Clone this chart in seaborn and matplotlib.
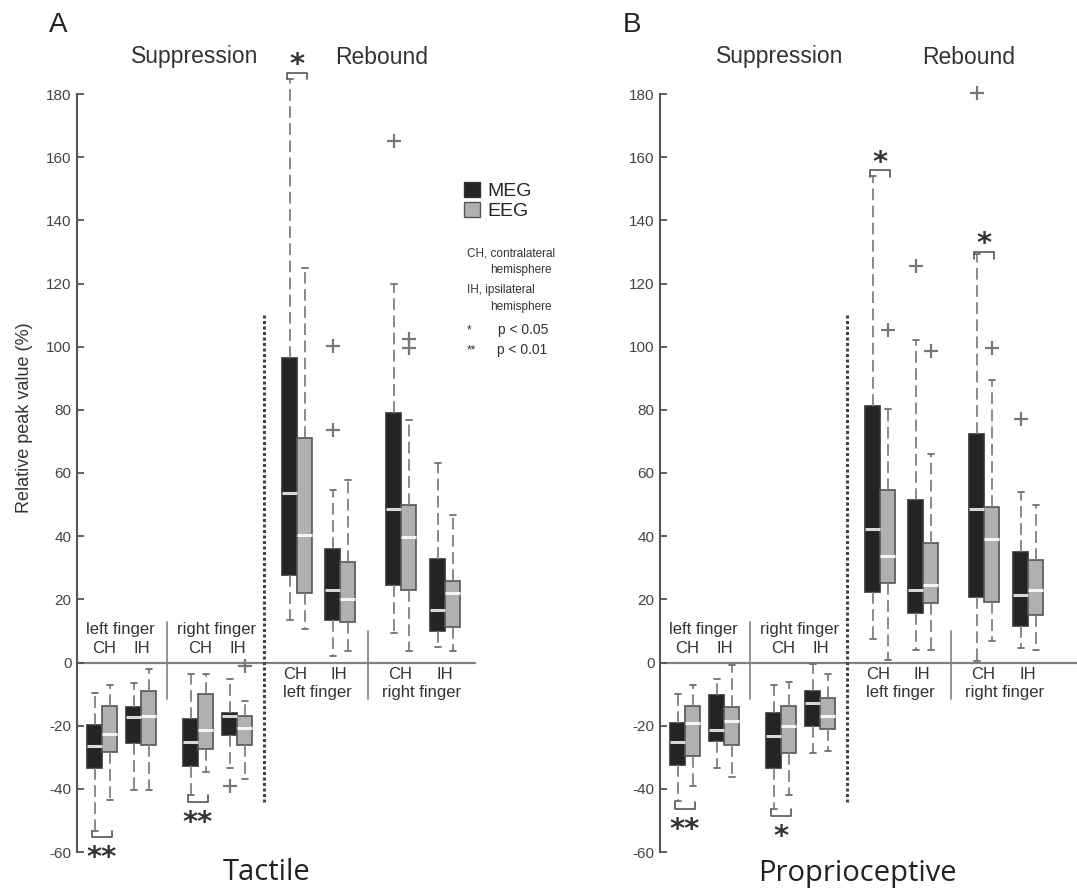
import matplotlib
matplotlib.use("Agg")
import matplotlib.pyplot as plt
from matplotlib.patches import Patch
import seaborn as sns

# Box statistics: [whisker low, q1, median, q3, whisker high]
# order: Suppression (left CH, left IH, right CH, right IH), Rebound (left CH, left IH, right CH, right IH)
conditions = ["sup L CH", "sup L IH", "sup R CH", "sup R IH",
              "reb L CH", "reb L IH", "reb R CH", "reb R IH"]

tactile_meg = [[-53.4, -33.5, -26.5, -19.9, -9.5],
               [-40.4, -25.4, -17.4, -14.1, -6.6],
               [-42.1, -32.8, -25.1, -17.8, -3.5],
               [-33.3, -23.1, -16.8, -15.9, -5.2],
               [13.6, 27.8, 53.7, 96.4, 184.8],
               [1.9, 13.4, 22.9, 36.0, 54.7],
               [9.4, 24.5, 48.6, 79.0, 119.9],
               [5.0, 9.9, 16.6, 32.8, 63.2]]
tactile_eeg = [[-43.4, -28.3, -22.5, -13.8, -7.0],
               [-40.4, -26.0, -17.0, -9.1, -1.9],
               [-34.7, -27.5, -21.4, -10.1, -3.5],
               [-36.8, -26.0, -20.7, -17.0, -12.2],
               [10.7, 22.0, 40.5, 71.1, 124.9],
               [3.6, 12.8, 20.1, 31.7, 57.9],
               [3.6, 23.1, 39.8, 49.8, 76.9],
               [3.6, 11.2, 22.0, 25.7, 46.8]]
tactile_meg_out = [[], [], [], [-39.1], [], [100.1, 73.7], [165.0], []]
tactile_eeg_out = [[], [], [], [-1.0], [], [], [102.4, 99.6], []]

proprio_meg = [[-43.9, -32.5, -25.2, -19.3, -9.9],
               [-33.3, -24.7, -21.4, -10.3, -5.2],
               [-46.5, -33.3, -23.3, -15.9, -7.0],
               [-28.8, -20.1, -12.8, -9.1, -0.5],
               [7.5, 22.2, 42.3, 81.1, 153.9],
               [3.9, 15.7, 23.1, 51.6, 102.2],
               [0.5, 20.8, 48.6, 72.5, 129.4],
               [4.6, 11.5, 21.5, 34.9, 53.9]]
proprio_eeg = [[-39.1, -29.6, -19.3, -13.8, -7.0],
               [-36.2, -26.2, -18.6, -14.0, -0.9],
               [-42.1, -28.6, -20.1, -13.8, -6.2],
               [-28.1, -20.9, -17.0, -11.2, -3.5],
               [0.9, 25.2, 33.6, 54.7, 80.3],
               [3.9, 18.7, 24.4, 37.9, 66.1],
               [6.7, 19.3, 39.1, 49.1, 89.3],
               [4.0, 14.9, 23.1, 32.4, 49.8]]
proprio_meg_out = [[], [], [], [], [], [125.6], [180.3], [77.1]]
proprio_eeg_out = [[], [], [], [], [105.2], [98.7], [99.6], []]

# significance marks: (condition index, bracket y, label, above/below)
tactile_sig = [(0, -55.4, "**", "below"), (2, -44.3, "**", "below"), (4, 186.8, "*", "above")]
proprio_sig = [(0, -46.5, "**", "below"), (2, -48.7, "*", "below"),
               (4, 155.8, "*", "above"), (6, 130.0, "*", "above")]

# layout (x in pixel-like units from the y axis)
centers = [25, 64, 121, 160, 220, 263, 324, 368]
W, H = 1077, 892

sns.set_theme(style="white")
plt.rcParams['font.family'] = ['Liberation Sans', 'DejaVu Sans']
plt.rcParams['axes.unicode_minus'] = False

fig = plt.figure(figsize=(W / 100, H / 100), dpi=100)


def ftext(x, y, s, **kw):
    fig.text(x / W, 1 - y / H, s, **kw)


def boxes(ax, data, outl, shift, face, edge, medc):
    stats = [dict(whislo=r[0], q1=r[1], med=r[2], q3=r[3], whishi=r[4], fliers=f)
             for r, f in zip(data, outl)]
    art = ax.bxp(stats, positions=[c + shift for c in centers], widths=15, capwidths=6,
                 patch_artist=True, manage_ticks=False,
                 boxprops=dict(facecolor=face, edgecolor=edge, linewidth=1.2),
                 medianprops=dict(color=medc, linewidth=2.2),
                 whiskerprops=dict(color='#808080', linestyle=(0, (6.5, 3)), linewidth=1.3),
                 capprops=dict(color='#707070', linewidth=1.3),
                 flierprops=dict(marker='+', markeredgecolor='#777777', markersize=10,
                                 markeredgewidth=1.6))
    for group in art.values():
        for a in group:
            a.set_clip_on(False)


def panel(left_px, meg, eeg, meg_out, eeg_out, sig, zero_end):
    ax = fig.add_axes([left_px / W, 40 / H, 400 / W, 758 / H])
    ax.set_xlim(0, 400)
    ax.set_ylim(-60, 180)
    boxes(ax, meg, meg_out, -7.5, '#242424', '#333333', '#d8d8d8')
    boxes(ax, eeg, eeg_out, 7.5, '#b0b0b0', '#555555', '#f4f4f4')

    for s in ['top', 'right', 'bottom']:
        ax.spines[s].set_visible(False)
    ax.spines['left'].set_color('#555555')
    ax.spines['left'].set_linewidth(1.5)
    ax.spines['left'].set_bounds(-60, 180)
    ax.set_xticks([])
    ax.set_yticks(range(-60, 181, 20))
    ax.tick_params(axis='y', left=True, direction='in', length=5, width=1.3,
                   color='#555555', labelsize=11, labelcolor='#444444', pad=4)

    # zero line and separators
    ax.plot([0, zero_end], [0, 0], color='#808080', lw=1.6, clip_on=False, zorder=0)
    ax.plot([90, 90], [12.7, -11.7], color='#808080', lw=1.2)
    ax.plot([291, 291], [10, -11.7], color='#808080', lw=1.2)
    ax.plot([187, 187], [110, -44.3], color='#444444', lw=2.2, linestyle=(0, (1, 0.8)))

    # group labels
    kw = dict(ha='center', va='center', fontsize=12, color='#333333')
    ax.text(43, 10.4, "left finger", **kw)
    ax.text(140, 10.4, "right finger", **kw)
    for x in [27, 123]:
        ax.text(x, 4.4, "CH", **kw)
    for x in [65, 161]:
        ax.text(x, 4.4, "IH", **kw)
    ax.text(218, -3.8, "CH", **kw)
    ax.text(262, -3.8, "IH", **kw)
    ax.text(323, -3.8, "CH", **kw)
    ax.text(368, -3.8, "IH", **kw)
    ax.text(240, -9.4, "left finger", **kw)
    ax.text(345, -9.4, "right finger", **kw)

    # significance brackets
    for i, y, lab, where in sig:
        x1, x2 = centers[i] - 10, centers[i] + 10
        d = -2.2 if where == "above" else 2.2
        ax.plot([x1, x1, x2, x2], [y + d, y, y, y + d], color='#555555', lw=1.2,
                clip_on=False)
        ys = y + 2.5 if where == "above" else y - 6.5
        ax.text(centers[i], ys, lab, ha='center', va='center', fontsize=21,
                fontweight='bold', color='#333333', clip_on=False, family='DejaVu Sans')
    return ax


axA = panel(77, tactile_meg, tactile_eeg, tactile_meg_out, tactile_eeg_out, tactile_sig, 398)
axB = panel(660, proprio_meg, proprio_eeg, proprio_meg_out, proprio_eeg_out, proprio_sig, 417)

# panel letters, headings, modality titles
ftext(58, 25, "A", ha='center', va='center', fontsize=20, color='#222222')
ftext(632, 25, "B", ha='center', va='center', fontsize=20, color='#222222')
for x, s in [(195, "Suppression"), (382, "Rebound"), (780, "Suppression"), (969, "Rebound")]:
    ftext(x, 57, s, ha='center', va='center', fontsize=16.5, color='#333333')
ftext(267, 873, "Tactile", ha='center', va='center', fontsize=21, color='#222222',
      family=['Open Sans', 'DejaVu Sans'])
ftext(857, 873, "Proprioceptive", ha='center', va='center', fontsize=21, color='#222222',
      family=['Open Sans', 'DejaVu Sans'])
ftext(25, 418, "Relative peak value (%)", ha='center', va='center', rotation=90,
      fontsize=13, color='#333333')

# legend and notes
handles = [Patch(facecolor='#242424', edgecolor='#333333', label='MEG'),
           Patch(facecolor='#b0b0b0', edgecolor='#555555', label='EEG')]
fig.legend(handles=handles, loc='upper left', bbox_to_anchor=(464 / W, 1 - 182 / H),
           frameon=False, fontsize=14, handlelength=0.8, handleheight=0.8,
           handletextpad=0.4, labelspacing=0.1, borderpad=0, borderaxespad=0)
nk = dict(ha='left', va='center', fontsize=8.5, color='#333333')
ftext(467, 253, "CH, contralateral", **nk)
ftext(490, 270, "hemisphere", **nk)
ftext(467, 290, "IH, ipsilateral", **nk)
ftext(490, 307, "hemisphere", **nk)
ftext(467, 330, "*", **nk)
ftext(498, 330, "p < 0.05", **dict(nk, fontsize=10))
ftext(467, 350, "**", **nk)
ftext(497, 350, "p < 0.01", **dict(nk, fontsize=10))

fig.savefig("out.png", dpi=100, facecolor='white')
